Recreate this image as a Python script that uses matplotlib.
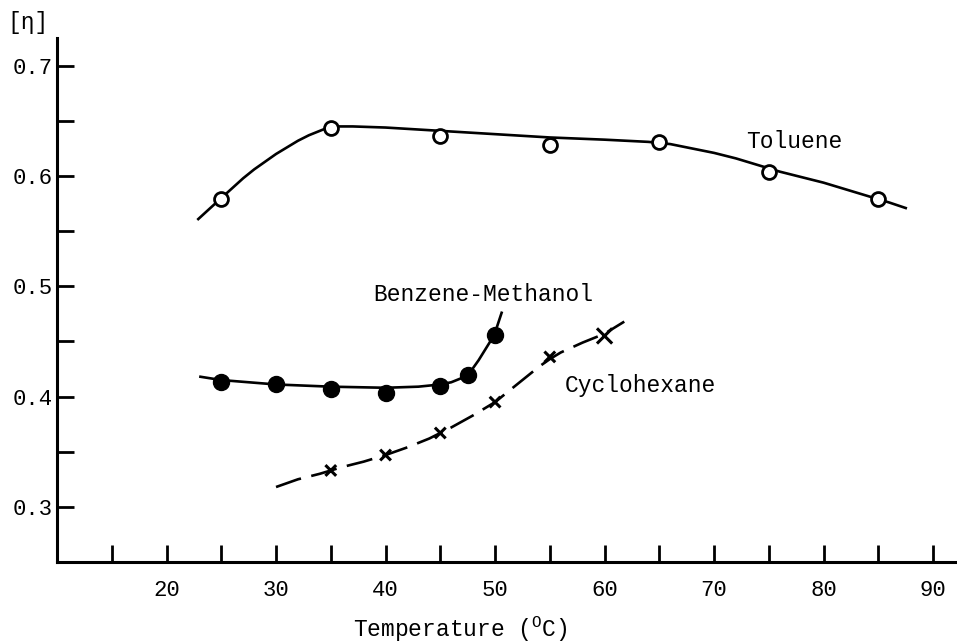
import matplotlib
matplotlib.use("Agg")
import matplotlib.pyplot as plt
from matplotlib.ticker import FixedLocator

plt.rcParams['font.family'] = ['Liberation Mono', 'DejaVu Sans']
plt.rcParams['mathtext.fontset'] = 'custom'
plt.rcParams['mathtext.rm'] = 'Liberation Mono'

# measured points
tol_t = [25, 35, 45, 55, 65, 75, 85]
tol_eta = [0.579, 0.644, 0.636, 0.628, 0.631, 0.604, 0.579]

bm_t = [25, 30, 35, 40, 45, 47.5, 50]
bm_eta = [0.413, 0.411, 0.407, 0.403, 0.410, 0.420, 0.456]

cyc_t = [35, 40, 45, 50, 55, 60]
cyc_eta = [0.333, 0.347, 0.367, 0.395, 0.436, 0.455]

# hand drawn curves
tol_curve_t = [22.9, 24, 25, 26, 27, 28, 29, 30, 31, 32, 33, 34, 35, 37, 40, 45, 50, 55, 60, 64,
               66, 68, 70, 72, 74, 76, 78, 80, 82, 84, 86, 87.5]
tol_curve_eta = [0.561, 0.571, 0.580, 0.589, 0.598, 0.606, 0.613, 0.620, 0.626, 0.632, 0.637, 0.641,
                 0.645, 0.645, 0.644, 0.641, 0.638, 0.635, 0.633, 0.631,
                 0.629, 0.625, 0.621, 0.616, 0.610, 0.604, 0.599, 0.594, 0.588, 0.582, 0.576, 0.571]

bm_curve_t = [23.1, 25, 30, 35, 40, 43, 45, 46, 47, 47.5, 48, 48.5, 49, 49.5, 50, 50.3, 50.6]
bm_curve_eta = [0.418, 0.415, 0.411, 0.409, 0.408, 0.409, 0.411, 0.413, 0.417, 0.420, 0.426, 0.433,
                0.441, 0.449, 0.458, 0.467, 0.476]

cyc_curve_t = [30, 32, 34, 36, 38, 40, 42, 44, 46, 48, 50, 52, 54, 55, 56, 58, 60, 61.8]
cyc_curve_eta = [0.318, 0.325, 0.330, 0.336, 0.341, 0.347, 0.354, 0.362, 0.372, 0.383, 0.395,
                 0.411, 0.427, 0.434, 0.440, 0.449, 0.457, 0.468]

fig = plt.figure(figsize=(9.57, 6.44), dpi=100)
ax = fig.add_axes([57/957, 82/644, 898/957, 524/644])

ax.plot(tol_curve_t, tol_curve_eta, color='black', lw=1.9, solid_joinstyle='round')
ax.plot(tol_t, tol_eta, 'o', ms=10, mfc='white', mec='black', mew=2)

ax.plot(bm_curve_t, bm_curve_eta, color='black', lw=1.9, solid_joinstyle='round')
ax.plot(bm_t, bm_eta, 'o', ms=11.5, color='black')

ax.plot(cyc_curve_t, cyc_curve_eta, color='black', lw=1.9, dashes=(10, 4))
ax.scatter(cyc_t, cyc_eta, marker='x', s=[60, 60, 60, 60, 60, 120], color='black',
           linewidths=2.2, zorder=3)

ax.text(77.3, 0.631, 'Toluene', fontsize=16.5, ha='center', va='center')
ax.text(48.9, 0.493, 'Benzene-Methanol', fontsize=16.5, ha='center', va='center')
ax.text(56.4, 0.410, 'Cyclohexane', fontsize=16.5, ha='left', va='center')

ax.set_xlim(10, 92)
ax.set_ylim(0.25, 0.7252)
for s in ['top', 'right']:
    ax.spines[s].set_visible(False)
for s in ['left', 'bottom']:
    ax.spines[s].set_linewidth(2.2)

ax.xaxis.set_major_locator(FixedLocator([20, 30, 40, 50, 60, 70, 80, 90]))
ax.xaxis.set_minor_locator(FixedLocator([15, 25, 35, 45, 55, 65, 75, 85]))
ax.yaxis.set_major_locator(FixedLocator([0.3, 0.4, 0.5, 0.6, 0.7]))
ax.yaxis.set_minor_locator(FixedLocator([0.35, 0.45, 0.55, 0.65]))
ax.set_yticklabels(['0.3', '0.4', '0.5', '0.6', '0.7'])
ax.tick_params(which='both', direction='in', length=12, width=2, labelsize=16)
ax.tick_params(axis='x', which='both', pad=13)
ax.tick_params(axis='y', which='both', pad=3)

ax.text(0.449, -0.128, 'Temperature ($^{\\mathrm{O}}$C)', transform=ax.transAxes,
        fontsize=16.5, ha='center', va='center')
fig.text(28/957, 1 - 22/644, '[η]', fontsize=16.5, ha='center', va='center')

fig.savefig('out.png', dpi=100)
